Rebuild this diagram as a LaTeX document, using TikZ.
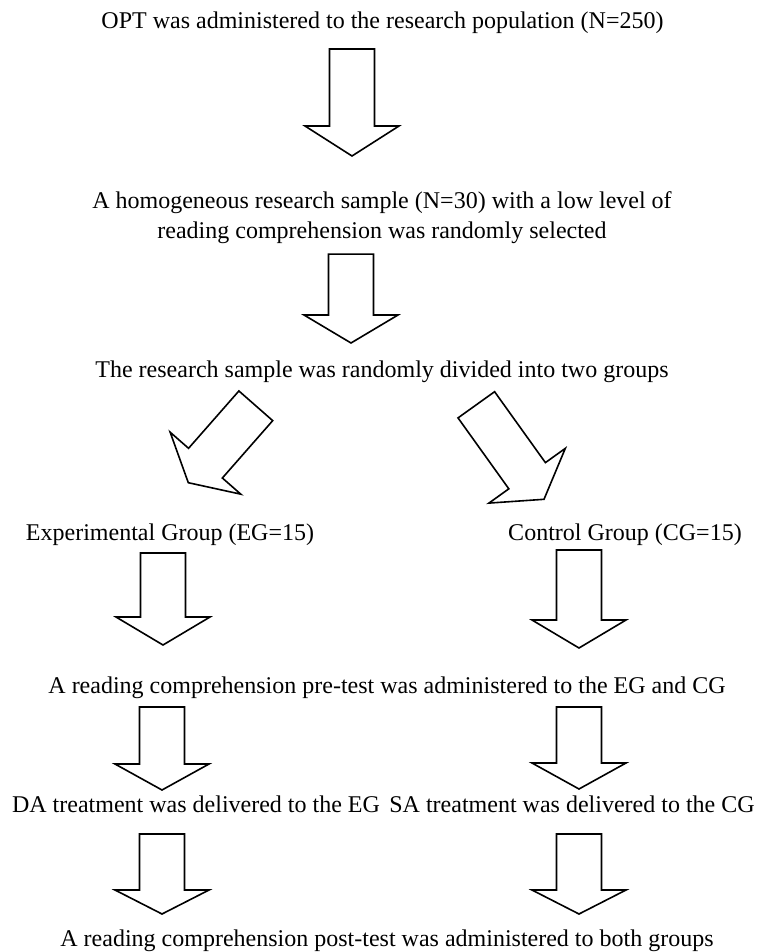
\documentclass[tikz,border=0pt]{standalone}
\usepackage{fontspec}
\setmainfont{Liberation Serif}
\usetikzlibrary{calc}
\def\fatw{11.25pt}
\def\fath{23.5pt}
\tikzset{
  lbl/.style={inner sep=0pt, font=\fontsize{12}{15}\selectfont, align=center},
  blockarrow/.style={line width=0.8pt, to path={
      let \p1=($(\tikztotarget)!#1!(\tikztostart)$) in
      ($(\tikztostart)!\fatw!90:(\tikztotarget)$)
      -- ($(\p1)!\fatw!90:(\tikztotarget)$)
      -- ($(\p1)!\fath!90:(\tikztotarget)$)
      -- (\tikztotarget)
      -- ($(\p1)!\fath!-90:(\tikztotarget)$)
      -- ($(\p1)!\fatw!-90:(\tikztotarget)$)
      -- ($(\tikztostart)!\fatw!-90:(\tikztotarget)$)
      -- cycle}},
  blockarrow/.default=14pt
}

\begin{document}
\begin{tikzpicture}[x=0.5pt,y=-0.5pt]
  \useasboundingbox (0,0) rectangle (763,952);
  \node[lbl,anchor=base]  (opt)    at (382.5,29) {OPT was administered to the research population (N=250)};
  \node[lbl,anchor=north] (sample) at (382,191)  {A homogeneous research sample (N=30) with a low level of\\reading comprehension was randomly selected};
  \node[lbl,anchor=base]  (split)  at (382,377)  {The research sample was randomly divided into two groups};
  \node[lbl,anchor=base]  (eg)     at (170,540)  {Experimental Group (EG=15)};
  \node[lbl,anchor=base]  (cg)     at (625,540)  {Control Group (CG=15)};
  \node[lbl,anchor=base]  (pre)    at (387,693)  {A reading comprehension pre-test was administered to the EG and CG};
  \node[lbl,anchor=base]  (da)     at (196,812)  {DA treatment was delivered to the EG};
  \node[lbl,anchor=base]  (sa)     at (572,812)  {SA treatment was delivered to the CG};
  \node[lbl,anchor=base]  (post)   at (387,946)  {A reading comprehension post-test was administered to both groups};

  \draw[blockarrow=15pt] ([shift={(-30.5,20)}]opt.base) to ([shift={(-30,-35)}]sample.north);
  \draw[blockarrow=14pt] ([shift={(-31,10.3)}]sample.south) to ([shift={(-31,-34)}]split.base);
  % the two groups
  \draw[blockarrow=13pt]   ([shift={(-126.2,28.8)}]split.base) to ([shift={(18.3,-57.3)}]eg.base);
  \draw[blockarrow=14.5pt] ([shift={(94.3,27.8)}]split.base)   to ([shift={(-81,-40.7)}]cg.base);
  % left column
  \draw[blockarrow=14pt] ([shift={(-7,13)}]eg.base)    to ([shift={(-224,-48)}]pre.base);
  \draw[blockarrow=13pt] ([shift={(-225,14)}]pre.base) to ([shift={(-34,-22)}]da.base);
  \draw[blockarrow=12pt] ([shift={(-34,22)}]da.base)   to ([shift={(-225,-32)}]post.base);
  % right column
  \draw[blockarrow=14pt] ([shift={(-46,10)}]cg.base)   to ([shift={(192,-45)}]pre.base);
  \draw[blockarrow=13pt] ([shift={(192,14)}]pre.base)  to ([shift={(7,-23)}]sa.base);
  \draw[blockarrow=12pt] ([shift={(7,22)}]sa.base)     to ([shift={(192,-32)}]post.base);
\end{tikzpicture}
\end{document}
